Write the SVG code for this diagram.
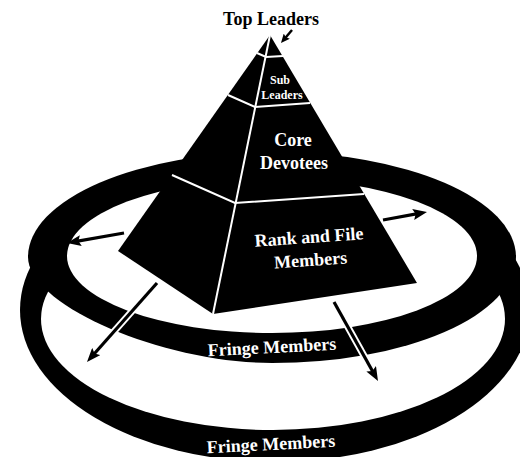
<svg xmlns="http://www.w3.org/2000/svg" width="520" height="457" viewBox="0 0 520 457">
  <style>
    .lbl { font-family: "Liberation Serif", "Times New Roman", serif; font-weight: bold; text-anchor: middle; }
    .w { fill: #fff; }
    .b { fill: #000; }
    .edge { fill: none; stroke: #fff; stroke-width: 2; stroke-linejoin: miter; }
    .halo { stroke: #fff; stroke-width: 7; fill: none; }
    .shaft { stroke: #000; stroke-width: 3.2; fill: none; marker-end: url(#head); }
  </style>
  <defs>
    <marker id="head" viewBox="0 0 14 11" markerWidth="14" markerHeight="11" refX="6" refY="5.5" orient="auto" markerUnits="userSpaceOnUse">
      <path d="M0,0 L14,5.5 L0,11 L2.5,5.5 z" fill="#000"/>
    </marker>
    <marker id="headSmall" viewBox="0 0 9 8" markerWidth="9" markerHeight="8" refX="4" refY="4" orient="auto" markerUnits="userSpaceOnUse">
      <path d="M0,0 L9,4 L0,8 L1.5,4 z" fill="#000"/>
    </marker>
  </defs>

  <rect width="520" height="457" fill="#fff"/>

  <!-- outer fringe ring -->
  <g id="outer-ring">
    <ellipse cx="275" cy="310" rx="255" ry="152" fill="#000"/>
    <ellipse cx="273" cy="319" rx="232" ry="111" fill="#fff"/>
    <text class="lbl w" x="271" y="450" font-size="18" transform="rotate(-3 271 445)">Fringe Members</text>
  </g>

  <!-- inner fringe ring -->
  <g id="inner-ring">
    <path d="M28,257 A244,105 0 0 1 516,257 A244,106 0 0 1 272,363 C162,363 28,305 28,257 Z" fill="#000"/>
    <ellipse cx="272" cy="256" rx="205" ry="77" fill="#fff"/>
    <text class="lbl w" x="272" y="353" font-size="18" transform="rotate(-3 272 348)">Fringe Members</text>
  </g>

  <!-- pyramid body -->
  <g id="pyramid">
    <polygon points="270,35 118,251 213,314 417,283" fill="#000"/>
    <polyline class="edge" points="270,35 213,314"/>
  </g>

  <g id="top-leaders">
    <polyline class="edge" points="257,53 266,57 283,56"/>
    <text class="lbl b" x="271" y="25" font-size="18">Top Leaders</text>
  </g>

  <g id="sub-leaders">
    <polyline class="edge" points="228,95 255,107 310,103"/>
    <text class="lbl w" x="280" y="84" font-size="12">Sub</text>
    <text class="lbl w" x="282" y="99" font-size="12">Leaders</text>
  </g>

  <g id="core-devotees">
    <polyline class="edge" points="172,175 235,203 364,194"/>
    <text class="lbl w" x="293" y="146" font-size="18">Core</text>
    <text class="lbl w" x="294" y="169" font-size="18">Devotees</text>
  </g>

  <g id="rank-and-file">
    <g transform="rotate(-4 310 252)">
      <text class="lbl w" x="310" y="243" font-size="18">Rank and File</text>
      <text class="lbl w" x="310" y="266" font-size="18">Members</text>
    </g>
  </g>

  <!-- movement arrows -->
  <g id="connectors">
    <line class="halo" x1="124" y1="233" x2="76" y2="241.5"/>
    <line class="halo" x1="383" y1="220" x2="418" y2="213.5"/>
    <line class="halo" x1="157" y1="283" x2="94" y2="354"/>
    <line class="halo" x1="334" y1="302" x2="373" y2="372"/>
    <line class="shaft" x1="124" y1="233" x2="74.9" y2="241.6"/>
    <line class="shaft" x1="383" y1="220" x2="419.1" y2="213.4"/>
    <line class="shaft" x1="157" y1="283" x2="92.3" y2="356"/>
    <line class="shaft" x1="334" y1="302" x2="374.1" y2="374"/>
    <line x1="292" y1="30" x2="284.2" y2="39.2" stroke="#000" stroke-width="2.5" marker-end="url(#headSmall)"/>
  </g>
</svg>
